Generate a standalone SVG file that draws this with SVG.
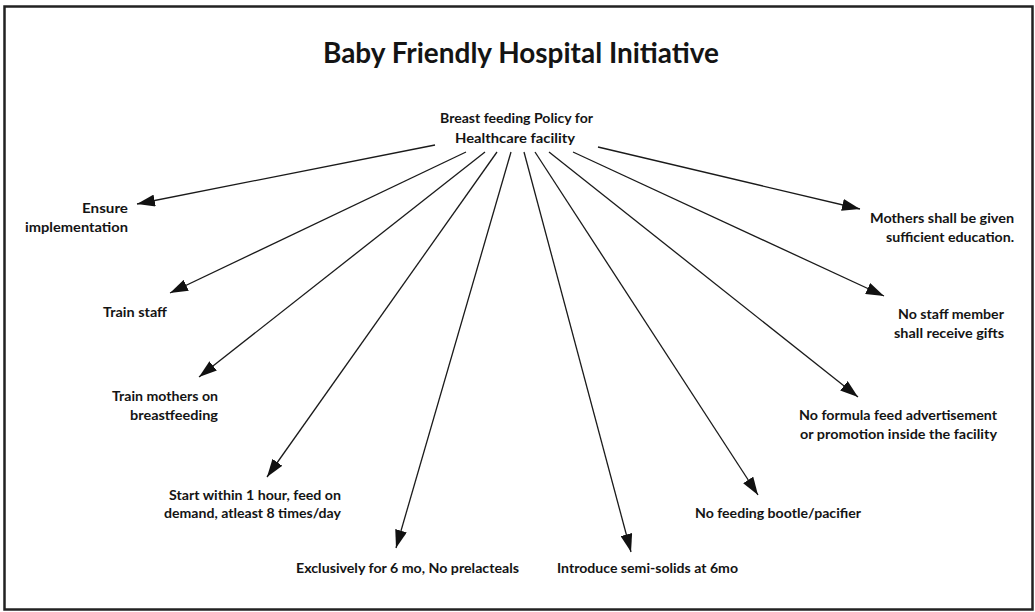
<svg xmlns="http://www.w3.org/2000/svg" width="1035" height="612" viewBox="0 0 1035 612">
<style>
text{font-family:Lato,"Liberation Sans",sans-serif;font-weight:700;fill:#141414}
.t{font-size:28px}
.l{font-size:14px}
.e{text-anchor:end}
.c{stroke:#1a1a1a;stroke-width:1.3;fill:none;marker-end:url(#ah)}
</style>
<defs>
<marker id="ah" viewBox="0 0 18 12" refX="18" refY="6" markerWidth="18" markerHeight="12" markerUnits="userSpaceOnUse" orient="auto">
<path d="M0,0 L18,6 L0,12 Z" fill="#111"/>
</marker>
</defs>
<rect x="0" y="0" width="1035" height="612" fill="#fff"/>
<rect x="4.5" y="6.5" width="1028" height="603" fill="none" stroke="#222" stroke-width="2.5"/>
<g id="title"><text class="t" x="323" y="63" textLength="396" lengthAdjust="spacingAndGlyphs">Baby Friendly Hospital Initiative</text></g>
<g id="connectors">
<path class="c" d="M435,145 L137,204"/>
<path class="c" d="M466,152 L170,293"/>
<path class="c" d="M485,152 L199,377"/>
<path class="c" d="M497,152 L267,477"/>
<path class="c" d="M511,152 L396,548"/>
<path class="c" d="M524,152 L631,552"/>
<path class="c" d="M535,152 L758,495"/>
<path class="c" d="M549,152 L858,397"/>
<path class="c" d="M573,152 L884,296"/>
<path class="c" d="M598,147 L860,209"/>
</g>
<g id="policy"><text class="l" x="440" y="123" textLength="153" lengthAdjust="spacingAndGlyphs">Breast feeding Policy for</text><text class="l" x="455" y="143" textLength="120" lengthAdjust="spacingAndGlyphs">Healthcare facility</text></g>
<g id="ensure"><text class="l e" x="128" y="213" textLength="46" lengthAdjust="spacingAndGlyphs">Ensure</text><text class="l e" x="128" y="232" textLength="103" lengthAdjust="spacingAndGlyphs">implementation</text></g>
<g id="trainstaff"><text class="l" x="103" y="317" textLength="64" lengthAdjust="spacingAndGlyphs">Train staff</text></g>
<g id="trainmothers"><text class="l e" x="218" y="401" textLength="106" lengthAdjust="spacingAndGlyphs">Train mothers on</text><text class="l e" x="218" y="420" textLength="88" lengthAdjust="spacingAndGlyphs">breastfeeding</text></g>
<g id="start"><text class="l e" x="341" y="500" textLength="172" lengthAdjust="spacingAndGlyphs">Start within 1 hour, feed on</text><text class="l e" x="341" y="518" textLength="177" lengthAdjust="spacingAndGlyphs">demand, atleast 8 times/day</text></g>
<g id="exclusive"><text class="l" x="296" y="573" textLength="223" lengthAdjust="spacingAndGlyphs">Exclusively for 6 mo, No prelacteals</text></g>
<g id="semisolids"><text class="l" x="557" y="573" textLength="181" lengthAdjust="spacingAndGlyphs">Introduce semi-solids at 6mo</text></g>
<g id="bottle"><text class="l" x="695" y="518" textLength="166" lengthAdjust="spacingAndGlyphs">No feeding bootle/pacifier</text></g>
<g id="formula"><text class="l e" x="997" y="420" textLength="198" lengthAdjust="spacingAndGlyphs">No formula feed advertisement</text><text class="l e" x="997" y="439" textLength="197" lengthAdjust="spacingAndGlyphs">or promotion inside the facility</text></g>
<g id="gifts"><text class="l e" x="1004" y="319" textLength="106" lengthAdjust="spacingAndGlyphs">No staff member</text><text class="l e" x="1004" y="338" textLength="110" lengthAdjust="spacingAndGlyphs">shall receive gifts</text></g>
<g id="education"><text class="l e" x="1014" y="223" textLength="144" lengthAdjust="spacingAndGlyphs">Mothers shall be given</text><text class="l e" x="1014" y="242" textLength="128" lengthAdjust="spacingAndGlyphs">sufficient education.</text></g>
</svg>
